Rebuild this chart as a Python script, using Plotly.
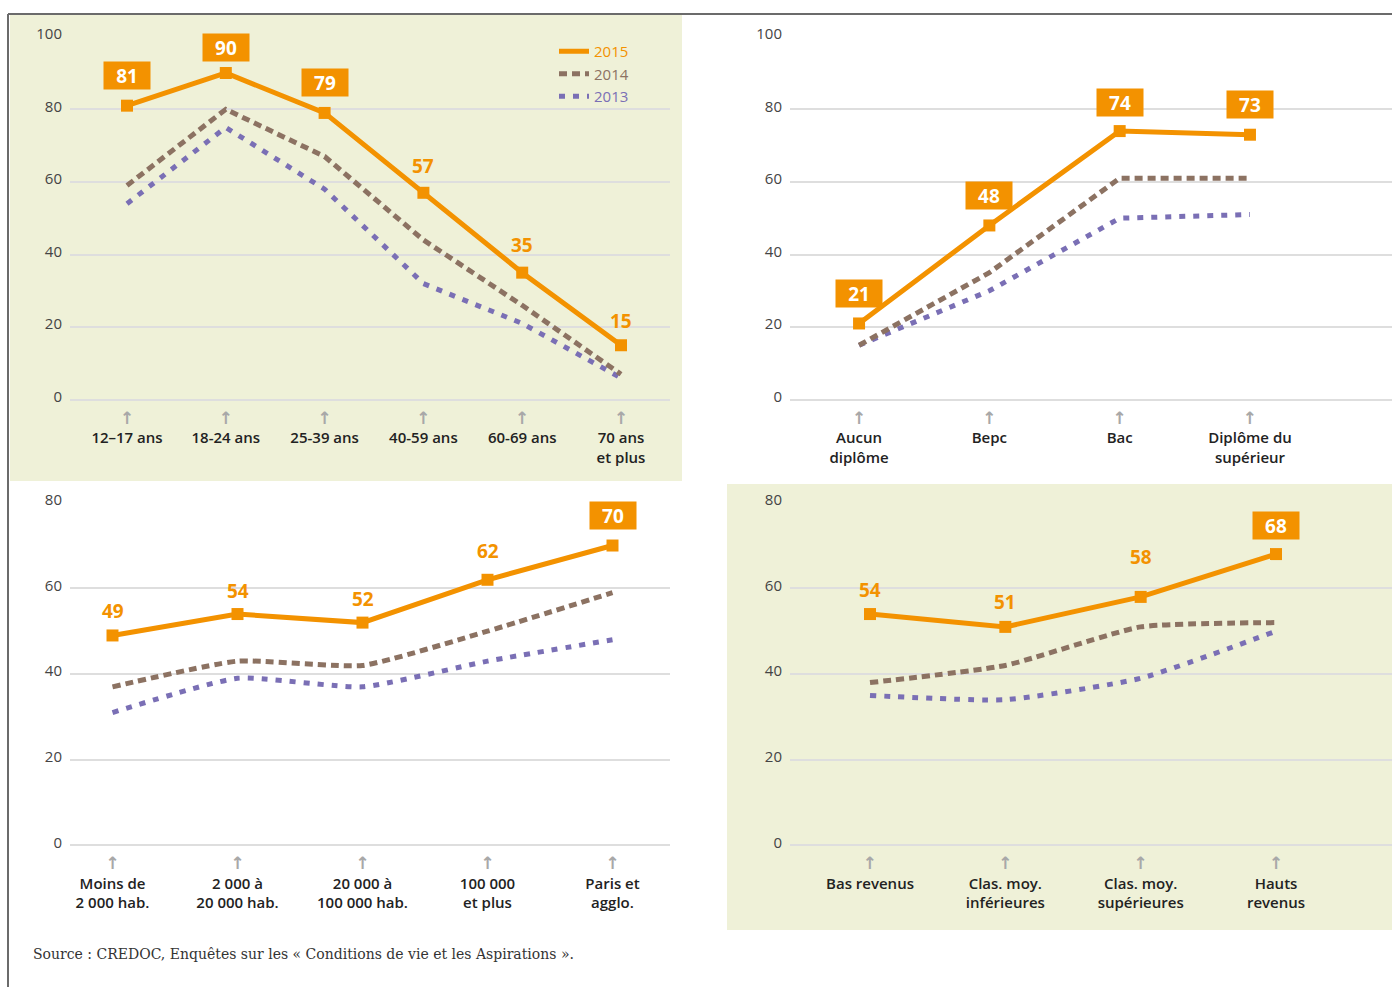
import plotly.graph_objects as go

# ---------------- data ----------------
years = ["2015", "2014", "2013"]

age_cats = ["12–17 ans", "18-24 ans", "25-39 ans", "40-59 ans", "60-69 ans", "70 ans<br>et plus"]
age_2015 = [81, 90, 79, 57, 35, 15]
age_2014 = [59, 80, 67, 44, 26, 7]
age_2013 = [54, 75, 58, 32, 21, 6]

dipl_cats = ["Aucun<br>diplôme", "Bepc", "Bac", "Diplôme du<br>supérieur"]
dipl_2015 = [21, 48, 74, 73]
dipl_2014 = [15, 35, 61, 61]
dipl_2013 = [15, 30, 50, 51]

town_cats = ["Moins de<br>2 000 hab.", "2 000 à<br>20 000 hab.", "20 000 à<br>100 000 hab.",
             "100 000<br>et plus", "Paris et<br>agglo."]
town_2015 = [49, 54, 52, 62, 70]
town_2014 = [37, 43, 42, 50, 59]
town_2013 = [31, 39, 37, 43, 48]

inc_cats = ["Bas revenus", "Clas. moy.<br>inférieures", "Clas. moy.<br>supérieures", "Hauts<br>revenus"]
inc_2015 = [54, 51, 58, 68]
inc_2014 = [38, 42, 51, 52]
inc_2013 = [35, 34, 39, 50]

source_text = "Source : CREDOC, Enquêtes sur les « Conditions de vie et les Aspirations »."

# ---------------- styles ----------------
W, H = 1392, 987
ORANGE = "#f39200"
BROWN = "#8c7262"
PURPLE = "#7a6fb5"
GREEN = "#eff1d8"
GRID = "#dedede"
FONT = "Open Sans"

# label styling per panel: boxed flag and vertical offset in px
age_boxed = [1, 1, 1, 0, 0, 0]
age_shift = [30, 26, 30, 27, 28, 24]
dipl_boxed = [1, 1, 1, 1]
dipl_shift = [30, 30, 29, 30]
town_boxed = [0, 0, 0, 0, 1]
town_shift = [24, 23, 24, 29, 30]
inc_boxed = [0, 0, 0, 1]
inc_shift = [24, 25, 40, 29]

def px_x(p):
    return p / W

def px_y(p):
    return 1 - p / H

panels = [
    dict(cats=age_cats, s=(age_2015, age_2014, age_2013), boxed=age_boxed, shift=age_shift,
         xd=(70, 670), yd=(36.7, 399.7), xr=[-0.577, 5.496], yr=[0, 100], ticks=[0, 20, 40, 60, 80, 100],
         smooth=False),
    dict(cats=dipl_cats, s=(dipl_2015, dipl_2014, dipl_2013), boxed=dipl_boxed, shift=dipl_shift,
         xd=(790, 1392), yd=(36.7, 399.7), xr=[-0.53, 4.09], yr=[0, 100], ticks=[0, 20, 40, 60, 80, 100],
         smooth=False),
    dict(cats=town_cats, s=(town_2015, town_2014, town_2013), boxed=town_boxed, shift=town_shift,
         xd=(70, 670), yd=(502.7, 845.3), xr=[-0.34, 4.46], yr=[0, 80], ticks=[0, 20, 40, 60, 80],
         smooth=True),
    dict(cats=inc_cats, s=(inc_2015, inc_2014, inc_2013), boxed=inc_boxed, shift=inc_shift,
         xd=(790, 1392), yd=(502.7, 845.3), xr=[-0.591, 3.857], yr=[0, 80], ticks=[0, 20, 40, 60, 80],
         smooth=True),
]

fig = go.Figure()
annotations = []
shapes = []

# background panels and frame
shapes.append(dict(type="rect", xref="paper", yref="paper", layer="below",
                   x0=px_x(10), x1=px_x(682), y0=px_y(481), y1=px_y(15),
                   fillcolor=GREEN, line=dict(width=0)))
shapes.append(dict(type="rect", xref="paper", yref="paper", layer="below",
                   x0=px_x(727), x1=px_x(1392), y0=px_y(930), y1=px_y(484),
                   fillcolor=GREEN, line=dict(width=0)))
shapes.append(dict(type="line", xref="paper", yref="paper", x0=px_x(8), x1=1, y0=px_y(14), y1=px_y(14),
                   line=dict(color="#6b6b6b", width=2)))
shapes.append(dict(type="line", xref="paper", yref="paper", x0=px_x(8), x1=px_x(8), y0=px_y(14), y1=0,
                   line=dict(color="#6b6b6b", width=2)))

line_styles = {
    "2013": dict(color=PURPLE, width=5, dash="6px,8px"),
    "2014": dict(color=BROWN, width=5, dash="8px,5px"),
    "2015": dict(color=ORANGE, width=5),
}
ranks = {"2015": 1, "2014": 2, "2013": 3}

for i, p in enumerate(panels):
    n = i + 1
    xa = "x" if n == 1 else f"x{n}"
    ya = "y" if n == 1 else f"y{n}"
    s2015, s2014, s2013 = p["s"]
    series = {"2013": s2013, "2014": s2014, "2015": s2015}
    for yr in ["2013", "2014", "2015"]:
        ls = dict(line_styles[yr])
        if p["smooth"] and yr != "2015":
            ls["shape"] = "spline"
            ls["smoothing"] = 0.5
        fig.add_trace(go.Scatter(
            x=p["cats"], y=series[yr], xaxis=xa, yaxis=ya, mode="lines", line=ls,
            name=f"<span style='color:{line_styles[yr]['color']}'>{yr}</span>",
            showlegend=(n == 1), legendrank=ranks[yr],
            cliponaxis=False, hoverinfo="skip",
        ))
    # 2015 markers
    fig.add_trace(go.Scatter(
        x=p["cats"], y=s2015, xaxis=xa, yaxis=ya, mode="markers",
        marker=dict(symbol="square", size=12, color=ORANGE),
        showlegend=False, cliponaxis=False, hoverinfo="skip",
    ))
    for c, v, b, sh in zip(p["cats"], s2015, p["boxed"], p["shift"]):
        if b:
            annotations.append(dict(x=c, y=v, xref=xa, yref=ya, text=f"<b>{v}</b>", showarrow=False,
                                    yshift=sh, yanchor="middle", xanchor="center",
                                    font=dict(family=FONT, size=19, color="white"),
                                    bgcolor=ORANGE, width=46, height=27, borderpad=0))
        else:
            annotations.append(dict(x=c, y=v, xref=xa, yref=ya, text=f"<b>{v}</b>", showarrow=False,
                                    yshift=sh, yanchor="middle", xanchor="center",
                                    font=dict(family=FONT, size=19, color=ORANGE)))

    ticktext = [f"<span style='color:#a8a8a8;font-family:DejaVu Sans;font-size:17px'>↑</span><br>{c}"
                for c in p["cats"]]
    xkey = "xaxis" if n == 1 else f"xaxis{n}"
    ykey = "yaxis" if n == 1 else f"yaxis{n}"
    fig.update_layout(**{
        xkey: dict(domain=[px_x(p["xd"][0]), px_x(p["xd"][1])], anchor=ya, type="category",
                   range=p["xr"], tickmode="array", tickvals=p["cats"], ticktext=ticktext,
                   showgrid=False, zeroline=False, showline=False, automargin=False,
                   ticks="outside", ticklen=5, tickcolor="rgba(0,0,0,0)",
                   tickfont=dict(family=FONT, size=15, color="#222222", weight=600)),
        ykey: dict(domain=[px_y(p["yd"][1]), px_y(p["yd"][0])], anchor=xa, range=p["yr"],
                   tickmode="array", tickvals=p["ticks"], showgrid=True, gridcolor=GRID, gridwidth=1.5,
                   zeroline=True, zerolinecolor=GRID, zerolinewidth=1.5, showline=False,
                   automargin=False, ticklabelshift=-3,
                   ticks="outside", ticklen=4, tickcolor="rgba(0,0,0,0)",
                   tickfont=dict(family=FONT, size=15, color="#444444")),
    })

annotations.append(dict(x=px_x(31), y=px_y(954), xref="paper", yref="paper", text=source_text,
                        showarrow=False, xanchor="left", yanchor="middle",
                        font=dict(family="DejaVu Serif", size=14, color="#333333")))

fig.update_layout(
    width=W, height=H,
    margin=dict(l=0, r=0, t=0, b=0, autoexpand=False),
    paper_bgcolor="white", plot_bgcolor="rgba(0,0,0,0)",
    shapes=shapes, annotations=annotations,
    legend=dict(x=px_x(554), y=px_y(35), xanchor="left", yanchor="top",
                bgcolor="rgba(0,0,0,0)", font=dict(family=FONT, size=15),
                tracegroupgap=0, itemwidth=30),
    font=dict(family=FONT),
)

fig.write_html("out.html")
